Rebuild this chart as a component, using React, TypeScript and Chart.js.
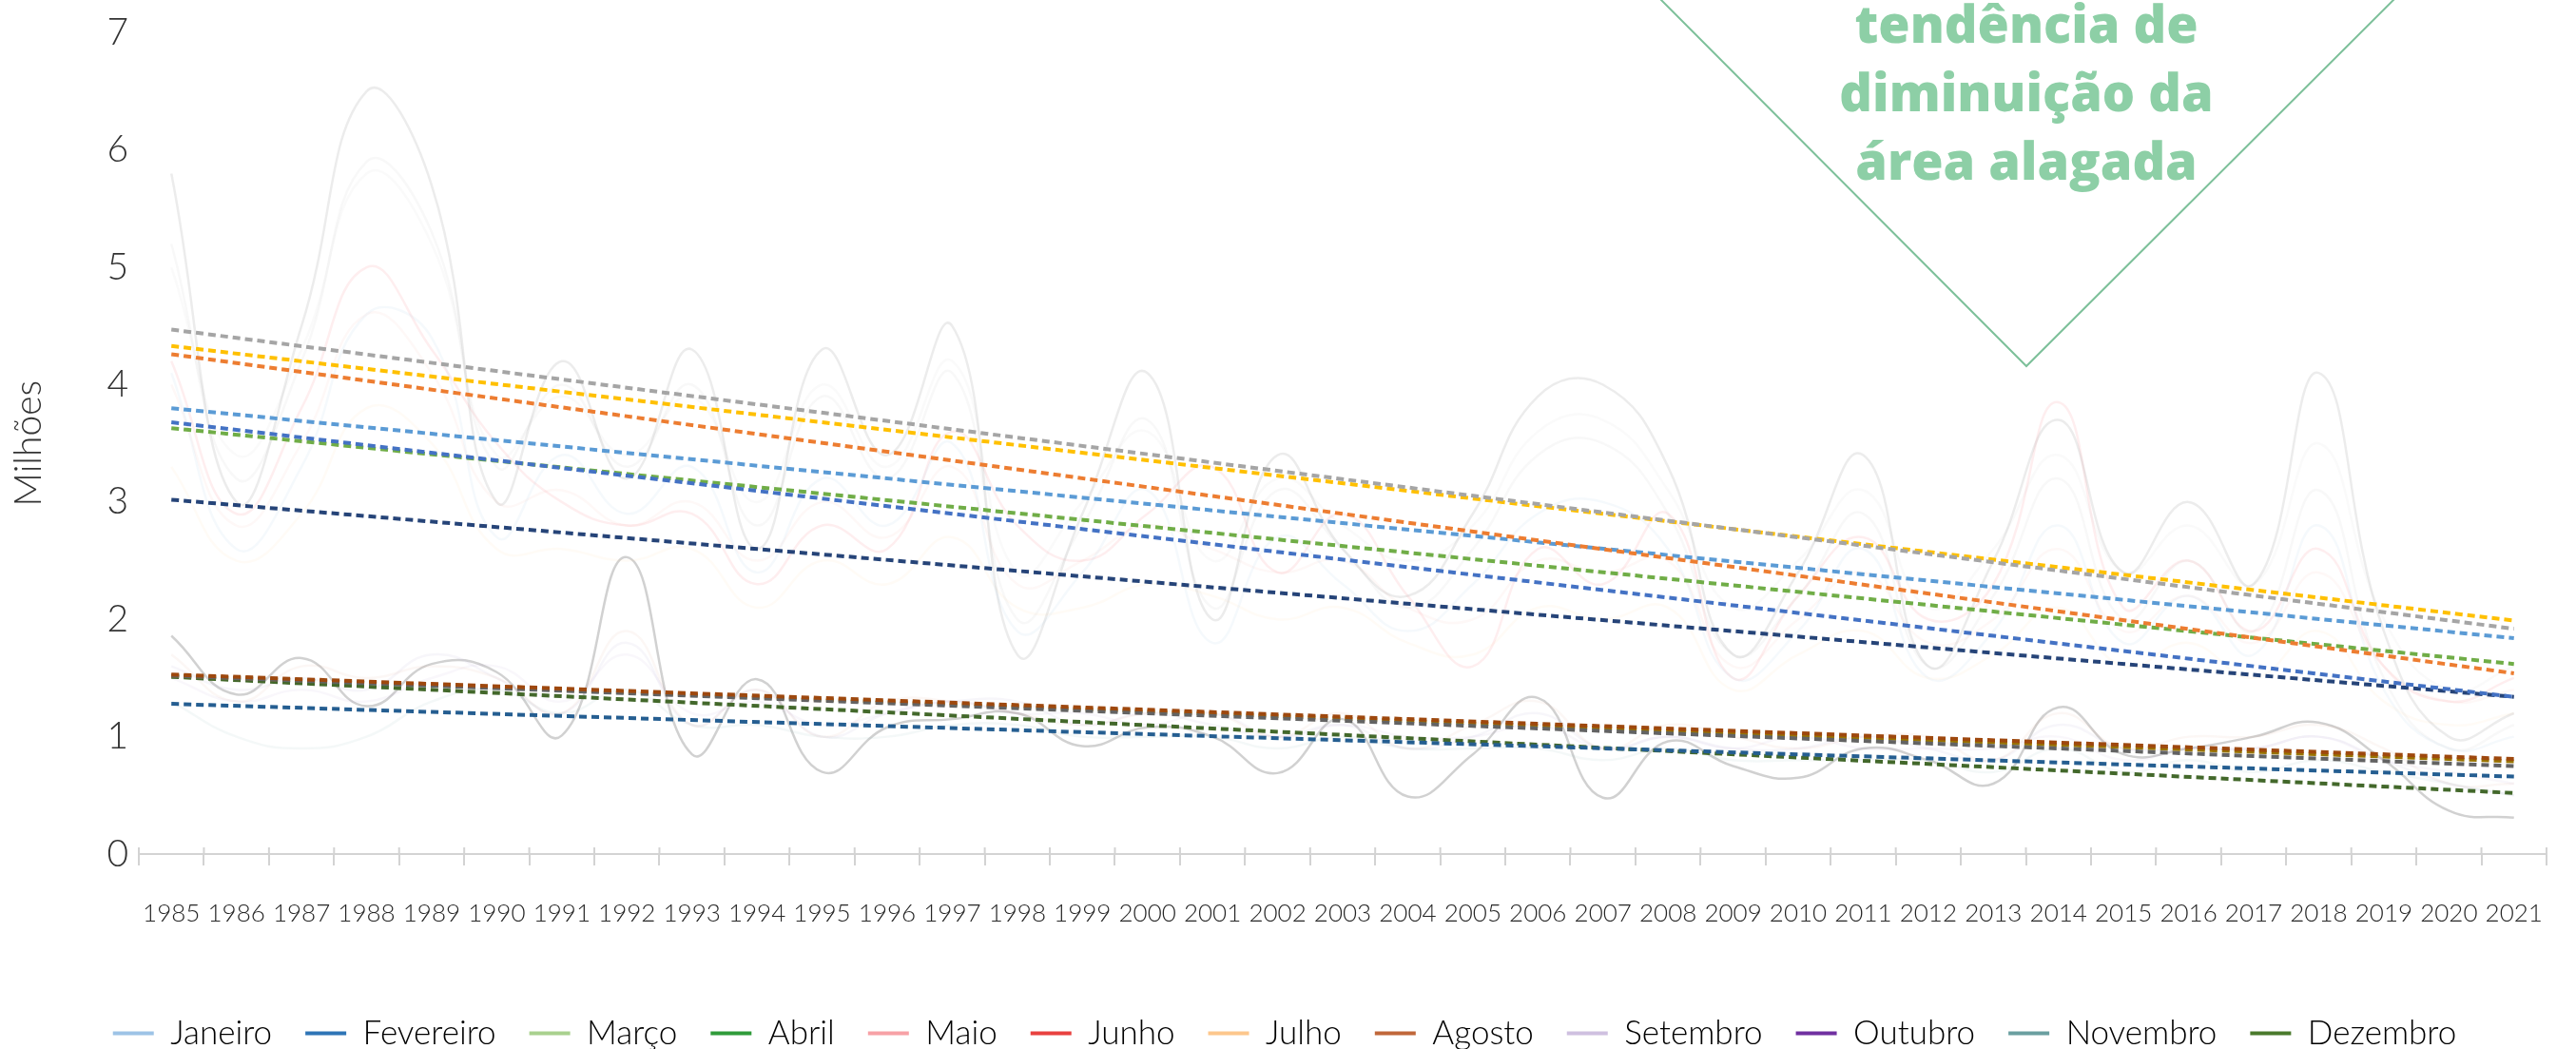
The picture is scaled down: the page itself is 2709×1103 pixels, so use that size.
import React, { useEffect, useRef } from 'react';
import { Chart, registerables } from 'chart.js';

Chart.register(...registerables);

const years = [
  '1985', '1986', '1987', '1988', '1989', '1990', '1991', '1992', '1993', '1994',
  '1995', '1996', '1997', '1998', '1999', '2000', '2001', '2002', '2003', '2004',
  '2005', '2006', '2007', '2008', '2009', '2010', '2011', '2012', '2013', '2014',
  '2015', '2016', '2017', '2018', '2019', '2020', '2021',
];

const months = [
  'Janeiro', 'Fevereiro', 'Março', 'Abril', 'Maio', 'Junho',
  'Julho', 'Agosto', 'Setembro', 'Outubro', 'Novembro', 'Dezembro',
];

const legendColors = [
  '#9DC3E6', '#2E75B6', '#A9D18E', '#2F9B3A', '#F7A1A6', '#E8413F',
  '#FDC78C', '#C0673A', '#CFC0E0', '#7030A0', '#6A9FA0', '#4A7A2C',
];

const rawColors = [
  'rgba(157,195,230,0.10)', 'rgba(185,185,185,0.10)', 'rgba(160,160,160,0.20)', 'rgba(195,195,195,0.08)',
  'rgba(247,161,166,0.18)', 'rgba(232,65,63,0.04)', 'rgba(253,199,140,0.08)', 'rgba(192,103,58,0.05)',
  'rgba(190,180,210,0.12)', 'rgba(112,48,160,0.04)', 'rgba(106,159,160,0.07)', 'rgba(140,140,140,0.40)',
];

const trendColors = [
  '#4472C4', '#ED7D31', '#A5A5A5', '#FFC000', '#5B9BD5', '#70AD47',
  '#264478', '#9E480E', '#636363', '#997300', '#255E91', '#43682B',
];

const trendStart = [3.68, 4.26, 4.47, 4.33, 3.80, 3.63, 3.02, 1.53, 1.52, 1.52, 1.28, 1.51];
const trendEnd = [1.34, 1.54, 1.92, 1.99, 1.84, 1.62, 1.34, 0.81, 0.75, 0.79, 0.66, 0.52];

const janeiro = [4.1, 2.6, 3.3, 4.6, 4.4, 2.7, 3.4, 2.9, 3.3, 2.4, 3.2, 2.8, 3.5, 1.9, 2.4, 3.1, 1.8, 2.7, 2.3, 1.9, 2.3, 2.9, 3.0, 2.6, 1.5, 1.9, 2.6, 1.5, 1.9, 2.8, 1.8, 2.2, 1.7, 2.8, 1.4, 0.9, 1.0];
const fevereiro = [5.2, 3.2, 4.2, 5.9, 5.3, 3.3, 4.0, 3.3, 4.0, 2.8, 3.9, 3.2, 4.1, 2.0, 2.8, 3.7, 2.1, 3.1, 2.6, 2.1, 2.6, 3.4, 3.5, 2.9, 1.7, 2.2, 2.9, 1.6, 2.2, 3.2, 2.0, 2.5, 1.9, 3.1, 1.5, 0.9, 1.1];
const marco = [5.8, 3.0, 4.5, 6.5, 5.7, 3.0, 4.2, 3.2, 4.3, 2.6, 4.3, 3.4, 4.5, 1.7, 2.9, 4.1, 2.0, 3.4, 2.6, 2.2, 2.9, 3.9, 4.0, 3.3, 1.7, 2.4, 3.4, 1.6, 2.5, 3.7, 2.4, 3.0, 2.3, 4.1, 1.9, 1.0, 1.2];
const abril = [5.0, 3.4, 4.3, 5.8, 5.2, 3.4, 3.9, 3.4, 3.9, 3.0, 4.0, 3.3, 4.2, 2.4, 3.0, 3.6, 2.5, 3.2, 2.8, 2.5, 2.8, 3.6, 3.7, 3.1, 2.1, 2.5, 3.1, 2.1, 2.6, 3.4, 2.4, 2.8, 2.3, 3.5, 2.0, 1.4, 1.6];
const maio = [4.2, 2.9, 3.8, 5.0, 4.3, 3.5, 3.0, 2.8, 2.9, 2.3, 2.8, 2.6, 3.6, 2.8, 2.5, 2.9, 3.3, 2.4, 2.9, 2.2, 1.6, 2.6, 2.3, 2.9, 1.5, 2.2, 2.7, 2.0, 2.3, 3.85, 2.1, 2.5, 1.9, 2.6, 1.6, 1.3, 1.5];
const junho = [4.0, 2.8, 3.5, 4.6, 4.1, 3.0, 3.1, 2.8, 3.0, 2.5, 3.0, 2.7, 3.3, 2.3, 2.5, 2.8, 2.6, 2.4, 2.5, 2.1, 2.0, 2.5, 2.4, 2.5, 1.6, 2.0, 2.4, 1.8, 2.0, 2.6, 1.9, 2.2, 1.8, 2.4, 1.6, 1.3, 1.4];
const julho = [3.3, 2.5, 2.9, 3.8, 3.5, 2.6, 2.6, 2.5, 2.6, 2.1, 2.5, 2.3, 2.7, 2.1, 2.1, 2.3, 2.2, 2.0, 2.1, 1.8, 1.7, 2.1, 2.0, 2.1, 1.4, 1.7, 1.9, 1.5, 1.7, 2.1, 1.6, 1.8, 1.5, 1.9, 1.3, 1.1, 1.2];
const agosto = [1.7, 1.3, 1.6, 1.5, 1.6, 1.5, 1.2, 1.9, 1.1, 1.4, 1.0, 1.3, 1.3, 1.2, 1.1, 1.2, 1.2, 1.0, 1.2, 0.9, 1.1, 1.3, 0.9, 1.1, 1.0, 0.9, 1.0, 1.0, 0.8, 1.2, 0.9, 1.0, 1.0, 1.1, 0.9, 0.6, 0.6];
const setembro = [1.6, 1.4, 1.5, 1.4, 1.7, 1.5, 1.2, 1.8, 1.1, 1.4, 1.0, 1.2, 1.3, 1.3, 1.1, 1.2, 1.1, 1.0, 1.1, 0.9, 1.0, 1.2, 0.9, 1.0, 0.9, 0.9, 1.0, 0.9, 0.8, 1.1, 0.9, 0.9, 0.9, 1.0, 0.8, 0.6, 0.5];
const outubro = [1.5, 1.3, 1.4, 1.3, 1.5, 1.6, 1.3, 1.7, 1.2, 1.3, 1.1, 1.2, 1.3, 1.2, 1.2, 1.1, 1.2, 1.0, 1.1, 1.0, 1.0, 1.1, 0.9, 1.0, 0.9, 1.0, 0.9, 0.9, 0.9, 1.0, 0.8, 0.9, 0.9, 1.0, 0.8, 0.7, 0.6];
const novembro = [1.3, 1.0, 0.9, 1.0, 1.3, 1.4, 1.2, 1.4, 1.1, 1.1, 1.0, 1.0, 1.1, 1.1, 1.0, 1.0, 1.0, 0.9, 1.0, 0.9, 0.9, 0.9, 0.8, 0.9, 0.8, 0.8, 0.8, 0.8, 0.7, 0.9, 0.7, 0.8, 0.7, 0.8, 0.7, 0.6, 0.5];
const dezembro = [1.86, 1.36, 1.67, 1.26, 1.62, 1.55, 1.01, 2.53, 0.85, 1.49, 0.70, 1.08, 1.15, 1.2, 0.92, 1.08, 1.0, 0.69, 1.15, 0.49, 0.85, 1.33, 0.48, 0.96, 0.75, 0.65, 0.9, 0.8, 0.6, 1.25, 0.85, 0.9, 1.0, 1.12, 0.8, 0.37, 0.31];

const series = [janeiro, fevereiro, marco, abril, maio, junho, julho, agosto, setembro, outubro, novembro, dezembro];

const yAxisTitle = 'Milhões';
const noteLines = ['tendência de', 'diminuição da', 'área alagada'];

const W = 2709;
const H = 1103;
const TEXT = '#333333';

const notePlugin = {
  id: 'noteTriangle',
  afterDraw(chart: any) {
    const ctx = chart.ctx;
    ctx.save();
    ctx.strokeStyle = '#7DC09A';
    ctx.lineWidth = 2;
    ctx.beginPath();
    ctx.moveTo(1745, -2);
    ctx.lineTo(2131, 385);
    ctx.lineTo(2519, -2);
    ctx.stroke();
    ctx.fillStyle = '#8DCFA6';
    ctx.font = '800 54px "Open Sans"';
    ctx.textAlign = 'center';
    ctx.textBaseline = 'alphabetic';
    noteLines.forEach((t, i) => ctx.fillText(t, 2131, 45 + i * 72));
    ctx.restore();
  },
};

const tickStubPlugin = {
  id: 'tickStubs',
  afterDraw(chart: any) {
    const xs = chart.scales.x;
    const ctx = chart.ctx;
    const bottom = chart.chartArea.bottom;
    ctx.save();
    ctx.strokeStyle = '#D3D3D3';
    ctx.lineWidth = 2;
    for (let i = 0; i <= years.length; i++) {
      const p = xs.getPixelForValue(i - 0.5);
      ctx.beginPath();
      ctx.moveTo(p, bottom - 7);
      ctx.lineTo(p, bottom);
      ctx.stroke();
    }
    ctx.restore();
  },
};

export default function App() {
  const ref = useRef<HTMLCanvasElement | null>(null);

  useEffect(() => {
    if (!ref.current) return;
    const trendSets = months.map((m, i) => ({
      label: 'trend-' + m,
      data: [
        { x: years[0], y: trendStart[i] },
        { x: years[years.length - 1], y: trendEnd[i] },
      ],
      borderColor: trendColors[i],
      backgroundColor: trendColors[i],
      borderWidth: 4,
      borderDash: [8, 5],
      pointRadius: 0,
      tension: 0,
      order: 0,
      isTrend: true,
    }));
    const rawSets = months.map((m, i) => ({
      label: m,
      data: series[i],
      borderColor: rawColors[i],
      backgroundColor: legendColors[i],
      borderWidth: 2.5,
      pointRadius: 0,
      tension: 0.45,
      order: 1,
    }));

    const chart = new Chart(ref.current, {
      type: 'line',
      data: { labels: years, datasets: [...trendSets, ...rawSets] as any },
      options: {
        animation: false,
        responsive: false,
        devicePixelRatio: 1,
        layout: { padding: { left: 0, right: 7, top: 10, bottom: -11 } },
        plugins: {
          tooltip: { enabled: false },
          legend: {
            position: 'bottom',
            labels: {
              boxWidth: 43,
              boxHeight: 4,
              padding: 35,
              color: TEXT,
              font: { family: 'Lato', size: 35, weight: '300' as any },
              filter: (item: any) => !String(item.text).startsWith('trend-'),
              generateLabels: (c: any) =>
                c.data.datasets.map((d: any, i: number) => ({
                  text: d.label,
                  fillStyle: d.isTrend ? d.borderColor : d.backgroundColor,
                  strokeStyle: d.isTrend ? d.borderColor : d.backgroundColor,
                  lineWidth: 0,
                  hidden: false,
                  datasetIndex: i,
                })),
            },
          },
        },
        scales: {
          x: {
            type: 'category',
            offset: true,
            grid: {
              display: true,
              drawOnChartArea: false,
              drawTicks: true,
              tickLength: 12,
              color: '#D3D3D3',
              lineWidth: 2,
              offset: true,
            },
            border: { display: true, color: '#D3D3D3', width: 2 },
            ticks: {
              autoSkip: false,
              maxRotation: 0,
              minRotation: 0,
              padding: 35,
              color: '#262626',
              font: { family: 'Lato', size: 26, weight: '300' as any },
            },
            afterFit: (s: any) => { s.height = 136; },
          },
          y: {
            min: 0,
            max: 7,
            grid: { display: false, drawTicks: false },
            border: { display: false },
            ticks: {
              stepSize: 1,
              padding: 11,
              color: TEXT,
              font: { family: 'Lato', size: 39, weight: '300' as any },
            },
            title: {
              display: true,
              text: yAxisTitle,
              color: TEXT,
              font: { family: 'Lato', size: 39, weight: '300' as any },
              padding: { top: 7, bottom: 0 },
            },
            afterFit: (s: any) => { s.width = 146; },
          },
        },
      },
      plugins: [tickStubPlugin, notePlugin],
    });
    return () => chart.destroy();
  }, []);

  return (
    <div style={{ position: 'absolute', left: 0, top: 0, width: W, height: H, background: '#fff' }}>
      <canvas ref={ref} width={W} height={H} style={{ display: 'block', width: W, height: H }} />
    </div>
  );
}
